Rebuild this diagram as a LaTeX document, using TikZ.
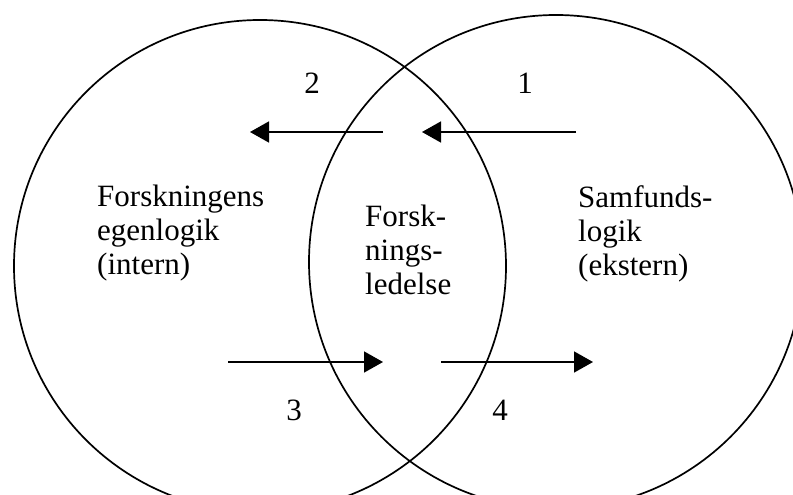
\documentclass[tikz,border=0pt]{standalone}
\usepackage{fontspec}
\setmainfont{Liberation Serif}
\usetikzlibrary{arrows.meta}
\tikzset{
  ring/.style={circle, draw, line width=1.7pt, inner sep=0pt},
  flow/.style={line width=1.6pt, -{Triangle[length=19pt,width=21pt]}},
  lbl/.style={font=\fontsize{31}{34}\selectfont, inner sep=0pt, align=left},
  num/.style={font=\fontsize{31}{34}\selectfont, inner sep=0pt, anchor=base}
}
\begin{document}
\begin{tikzpicture}[x=1pt,y=-1pt]
\useasboundingbox (0,0) rectangle (793,495);
\clip (0,0) rectangle (793,495);
\node[ring, minimum size=492pt] (L) at (260,266) {};
\node[ring, minimum size=494pt] (R) at (556,262) {};
% arrows
\coordinate (a1s) at (576,132); \coordinate (a1e) at (422,132);
\coordinate (a2s) at (383,132); \coordinate (a2e) at (250,132);
\coordinate (a3s) at (228,362); \coordinate (a3e) at (383,362);
\coordinate (a4s) at (441,362); \coordinate (a4e) at (593,362);
\draw[flow] (a1s) -- (a1e);
\draw[flow] (a2s) -- (a2e);
\draw[flow] (a3s) -- (a3e);
\draw[flow] (a4s) -- (a4e);
% numbers
\node[num] (n2) at (312,93) {2};
\node[num] (n1) at (525,93) {1};
\node[num] (n3) at (294,420) {3};
\node[num] (n4) at (500,420) {4};
% texts
\node[lbl, anchor=north west] (tl) at (97,185) {Forskningens\\egenlogik\\(intern)};
\node[lbl, anchor=north west] (tm) at (365,205) {Forsk-\\nings-\\ledelse};
\node[lbl, anchor=north west] (tr) at (578,185) {Samfunds-\\logik\\(ekstern)};
\end{tikzpicture}
\end{document}
